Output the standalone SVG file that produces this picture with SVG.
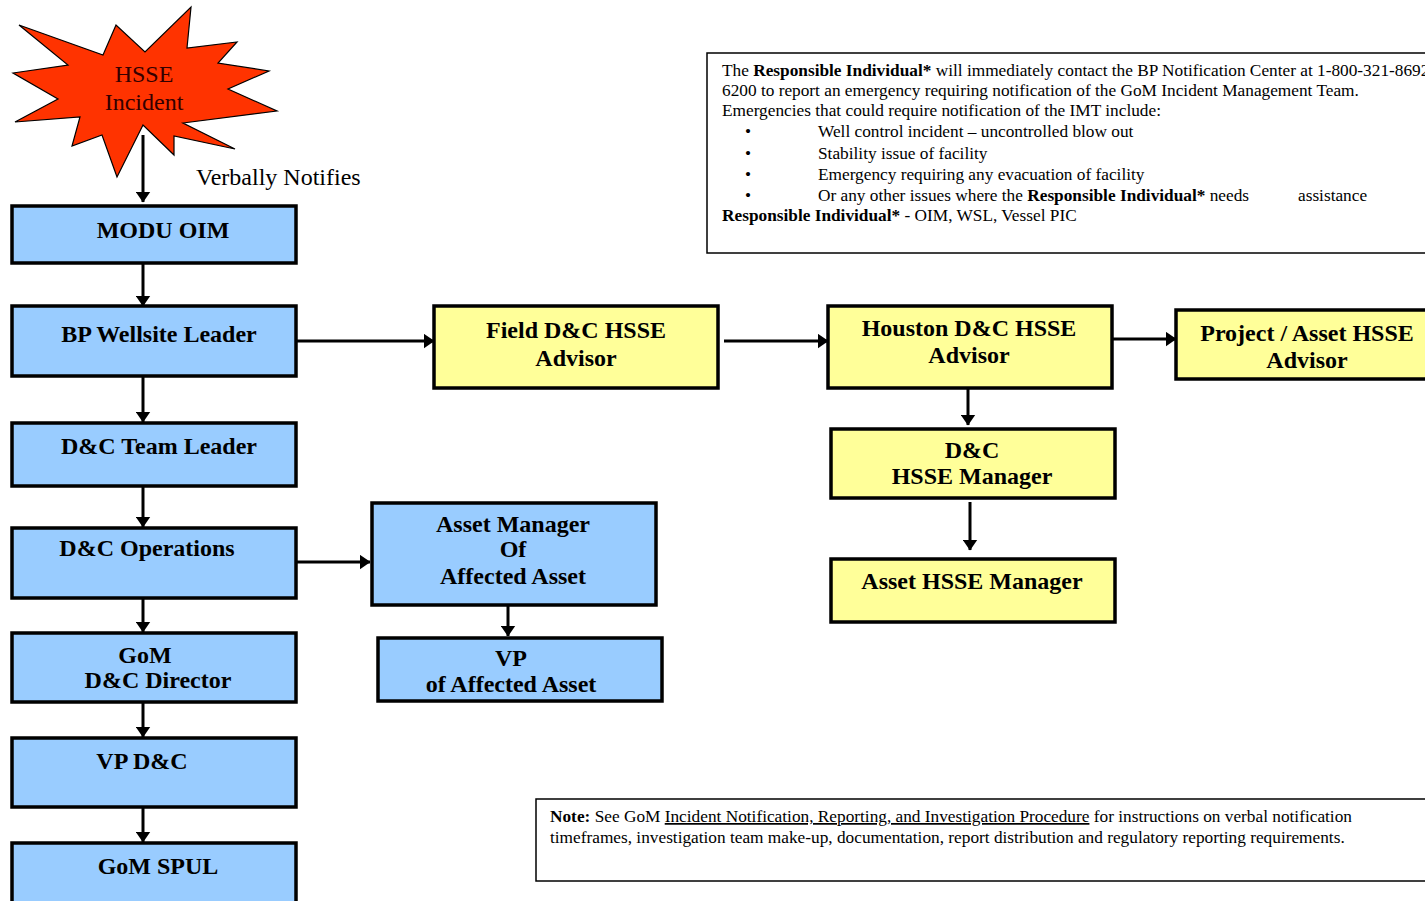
<svg xmlns="http://www.w3.org/2000/svg" width="1425" height="901" viewBox="0 0 1425 901">
<defs>
<style>
.blue{fill:#99ccff;stroke:#000;stroke-width:3.5}
.yel{fill:#ffff99;stroke:#000;stroke-width:3.5}
.t{font-family:"Liberation Serif","Times New Roman",serif;font-weight:bold;font-size:24px;fill:#000;text-anchor:middle}
.n{font-family:"Liberation Serif","Times New Roman",serif;font-size:17.3px;fill:#000}
.c{stroke:#000;stroke-width:3;fill:none;marker-end:url(#ah)}
.box{fill:#fff;stroke:#000;stroke-width:1.5}
</style>
<marker id="ah" markerUnits="userSpaceOnUse" markerWidth="11" markerHeight="15" viewBox="0 0 11 15" refX="10.5" refY="7.5" orient="auto">
<path d="M0,0 L11,7.5 L0,15 z" fill="#000"/>
</marker>
</defs>
<rect width="1425" height="901" fill="#fff"/>

<g id="incident">
<polygon points="19,25 103,55 116,25 145,52 191,7 187,48 237,42 218,63 269,71 228,89 277,111 183,123 235,149 174,136 174,155 143,125 117,177 102,135 72,146 80,117 15,122 58,99 13,73 68,65" fill="#ff3300" stroke="#000" stroke-width="1.2" stroke-linejoin="miter"/>
<text x="144" y="82" font-family="Liberation Serif, serif" font-size="24" text-anchor="middle" fill="#330000">HSSE</text>
<text x="144" y="110" font-family="Liberation Serif, serif" font-size="24" text-anchor="middle" fill="#330000">Incident</text>
</g>
<text x="196" y="185" font-family="Liberation Serif, serif" font-size="24" fill="#000">Verbally Notifies</text>

<g id="connectors">
<line class="c" x1="143" y1="135" x2="143" y2="202"/>
<line class="c" x1="143" y1="263" x2="143" y2="306"/>
<line class="c" x1="143" y1="377" x2="143" y2="422"/>
<line class="c" x1="143" y1="487" x2="143" y2="527"/>
<line class="c" x1="143" y1="598" x2="143" y2="632"/>
<line class="c" x1="143" y1="703" x2="143" y2="737"/>
<line class="c" x1="143" y1="807" x2="143" y2="842"/>
<line class="c" x1="297" y1="341" x2="434" y2="341"/>
<line class="c" x1="724" y1="341" x2="828" y2="341"/>
<line class="c" x1="1112" y1="339" x2="1176" y2="339"/>
<line class="c" x1="968" y1="388" x2="968" y2="425"/>
<line class="c" x1="970" y1="502" x2="970" y2="550"/>
<line class="c" x1="297" y1="562" x2="370" y2="562"/>
<line class="c" x1="508" y1="605" x2="508" y2="636"/>
</g>

<g id="modu-oim"><rect class="blue" x="12" y="206" width="284" height="57"/><text class="t" x="163" y="238">MODU OIM</text></g>
<g id="bp-wellsite-leader"><rect class="blue" x="12" y="306" width="284" height="70"/><text class="t" x="159" y="342">BP Wellsite Leader</text></g>
<g id="dc-team-leader"><rect class="blue" x="12" y="423" width="284" height="63"/><text class="t" x="159" y="454">D&amp;C Team Leader</text></g>
<g id="dc-operations"><rect class="blue" x="12" y="528" width="284" height="70"/><text class="t" x="147" y="556">D&amp;C Operations</text></g>
<g id="gom-dc-director"><rect class="blue" x="12" y="633" width="284" height="69"/><text class="t" x="145" y="663">GoM</text><text class="t" x="158" y="688">D&amp;C Director</text></g>
<g id="vp-dc"><rect class="blue" x="12" y="738" width="284" height="69"/><text class="t" x="142" y="769">VP D&amp;C</text></g>
<g id="gom-spul"><rect class="blue" x="12" y="843" width="284" height="64"/><text class="t" x="158" y="874">GoM SPUL</text></g>

<g id="field-dc-hsse-advisor"><rect class="yel" x="434" y="306" width="284" height="82"/><text class="t" x="576" y="338">Field D&amp;C HSSE</text><text class="t" x="576" y="366">Advisor</text></g>
<g id="houston-dc-hsse-advisor"><rect class="yel" x="828" y="306" width="284" height="82"/><text class="t" x="969" y="336">Houston D&amp;C HSSE</text><text class="t" x="969" y="363">Advisor</text></g>
<g id="project-asset-hsse-advisor"><rect class="yel" x="1176" y="310" width="260" height="69"/><text class="t" x="1307" y="341" font-size="26.5">Project / Asset HSSE</text><text class="t" x="1307" y="368" font-size="26.5">Advisor</text></g>
<g id="dc-hsse-manager"><rect class="yel" x="831" y="429" width="284" height="69"/><text class="t" x="972" y="458">D&amp;C</text><text class="t" x="972" y="484">HSSE Manager</text></g>
<g id="asset-hsse-manager"><rect class="yel" x="831" y="559" width="284" height="63"/><text class="t" x="972" y="589">Asset HSSE Manager</text></g>

<g id="asset-manager"><rect class="blue" x="372" y="503" width="284" height="102"/><text class="t" x="513" y="532">Asset Manager</text><text class="t" x="513" y="557">Of</text><text class="t" x="513" y="584">Affected Asset</text></g>
<g id="vp-affected-asset"><rect class="blue" x="378" y="638" width="284" height="63"/><text class="t" x="511" y="666">VP</text><text class="t" x="511" y="692">of Affected Asset</text></g>

<g id="info-box">
<rect class="box" x="707" y="53" width="730" height="200"/>
<text class="n" x="722" y="76">The <tspan font-weight="bold">Responsible Individual*</tspan> will immediately contact the BP Notification Center at 1-800-321-8692</text>
<text class="n" x="722" y="96">6200 to report an emergency requiring notification of the GoM Incident Management Team.</text>
<text class="n" x="722" y="116">Emergencies that could require notification of the IMT include:</text>
<text class="n" x="745" y="137">•</text><text class="n" x="818" y="137">Well control incident – uncontrolled blow out</text>
<text class="n" x="745" y="159">•</text><text class="n" x="818" y="159">Stability issue of facility</text>
<text class="n" x="745" y="180">•</text><text class="n" x="818" y="180">Emergency requiring any evacuation of facility</text>
<text class="n" x="745" y="201">•</text><text class="n" x="818" y="201">Or any other issues where the <tspan font-weight="bold">Responsible Individual*</tspan> needs</text><text class="n" x="1298" y="201">assistance</text>
<text class="n" x="722" y="221"><tspan font-weight="bold">Responsible Individual*</tspan> - OIM, WSL, Vessel PIC</text>
</g>

<g id="note-box">
<rect class="box" x="536" y="799" width="900" height="82"/>
<text class="n" x="550" y="822"><tspan font-weight="bold">Note:</tspan>  See GoM <tspan text-decoration="underline">Incident Notification, Reporting, and Investigation Procedure</tspan> for instructions on verbal notification</text>
<text class="n" x="550" y="843">timeframes, investigation team make-up, documentation, report distribution and regulatory reporting requirements.</text>
</g>
</svg>
